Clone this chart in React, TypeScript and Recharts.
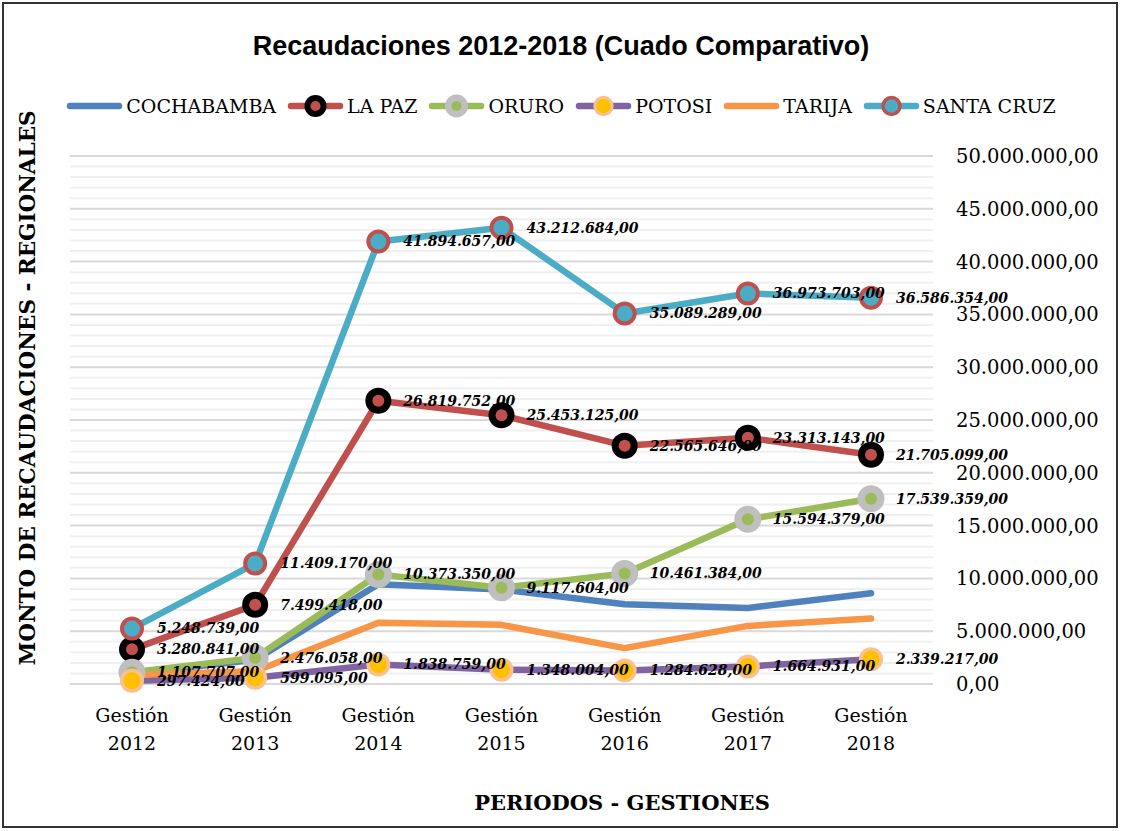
import React from "react"
import { CartesianGrid, LabelList, Line, LineChart, ReferenceLine, XAxis, YAxis } from "recharts"

const years = ["2012", "2013", "2014", "2015", "2016", "2017", "2018"]
const cochabamba = [1000000, 2300000, 9450000, 8950000, 7550000, 7200000, 8600000]
const laPaz = [3280841, 7499418, 26819752, 25453125, 22565646, 23313143, 21705099]
const oruro = [1107707, 2476058, 10373350, 9117604, 10461384, 15594379, 17539359]
const potosi = [297424, 599095, 1838759, 1348004, 1284628, 1664931, 2339217]
const tarija = [850000, 1200000, 5800000, 5600000, 3400000, 5500000, 6200000]
const santaCruz = [5248739, 11409170, 41894657, 43212684, 35089289, 36973703, 36586354]

const yTicks = [0, 5000000, 10000000, 15000000, 20000000, 25000000, 30000000, 35000000, 40000000, 45000000, 50000000]
const minorLines: number[] = []
for (let v = 1000000; v < 50000000; v += 1000000) if (v % 5000000 !== 0) minorLines.push(v)

const data = years.map((y, i) => ({
  name: "Gestión " + y,
  year: y,
  cochabamba: cochabamba[i],
  laPaz: laPaz[i],
  oruro: oruro[i],
  potosi: potosi[i],
  tarija: tarija[i],
  santaCruz: santaCruz[i],
}))

const C = {
  cochabamba: "#4F81BD",
  laPaz: "#C0504D",
  oruro: "#9BBB59",
  potosi: "#8064A2",
  tarija: "#F79646",
  santaCruz: "#4BACC6",
}

const SERIF = "'DejaVu Serif', serif"

function fmt(v: number) {
  const s = Math.round(v).toString().replace(/\B(?=(\d{3})+(?!\d))/g, ".")
  return s + ",00"
}

function marker(kind: string, cx: number, cy: number, s = 1) {
  if (kind === "laPaz")
    return (
      <g>
        <circle cx={cx} cy={cy} r={13 * s} fill="#000" />
        <circle cx={cx} cy={cy} r={6 * s} fill={C.laPaz} />
      </g>
    )
  if (kind === "oruro")
    return (
      <g>
        <circle cx={cx} cy={cy} r={13.5 * s} fill="#BFBFBF" />
        <circle cx={cx} cy={cy} r={6 * s} fill={C.oruro} />
      </g>
    )
  if (kind === "potosi")
    return (
      <g>
        <circle cx={cx} cy={cy} r={12 * s} fill="#FAC090" />
        <circle cx={cx} cy={cy} r={8.5 * s} fill="#FFC000" />
      </g>
    )
  if (kind === "santaCruz")
    return <circle cx={cx} cy={cy} r={10 * s} fill={C.santaCruz} stroke={C.laPaz} strokeWidth={4 * s} />
  return null
}

const dotFor = (kind: string) => (props: any) => (
  <g key={kind + props.index}>{marker(kind, props.cx, props.cy)}</g>
)

const renderLabel = (props: any) => {
  const { x, y, value } = props
  return (
    <text
      x={x + 25}
      y={y}
      dy="0.35em"
      fontFamily={SERIF}
      fontSize={14}
      fontWeight="bold"
      fontStyle="italic"
      fill="#000"
    >
      {fmt(value)}
    </text>
  )
}

const XTick = (props: any) => {
  const { x, y, payload } = props
  const [a, b] = String(payload.value).split(" ")
  return (
    <text x={x} y={y} textAnchor="middle" fontFamily={SERIF} fontSize={19} fill="#000">
      <tspan x={x} dy={30}>{a}</tspan>
      <tspan x={x} dy={28}>{b}</tspan>
    </text>
  )
}

const legendItems = [
  { key: "cochabamba", label: "COCHABAMBA" },
  { key: "laPaz", label: "LA PAZ" },
  { key: "oruro", label: "ORURO" },
  { key: "potosi", label: "POTOSI" },
  { key: "tarija", label: "TARIJA" },
  { key: "santaCruz", label: "SANTA CRUZ" },
]

export default function App() {
  const series = ["cochabamba", "laPaz", "oruro", "potosi", "tarija", "santaCruz"] as const
  const withMarkers = ["laPaz", "oruro", "potosi", "santaCruz"]
  const labelled = ["laPaz", "oruro", "potosi", "santaCruz"]

  return (
    <div style={{ position: "absolute", left: 0, top: 0, width: 1122, height: 831, background: "#fff" }}>
      <div
        style={{
          position: "absolute",
          left: 2,
          top: 2,
          width: 1112,
          height: 822,
          border: "2px solid #333",
        }}
      />
      <div
        style={{
          position: "absolute",
          top: 29,
          left: 0,
          width: 1122,
          textAlign: "center",
          fontFamily: "'Liberation Sans', sans-serif",
          fontWeight: "bold",
          fontSize: 27,
          lineHeight: "34px",
          color: "#000",
          paddingLeft: 0,
        }}
      >
        Recaudaciones 2012-2018 (Cuado Comparativo)
      </div>
      <div
        style={{
          position: "absolute",
          top: 92,
          left: 0,
          width: 1122,
          display: "flex",
          justifyContent: "center",
          alignItems: "center",
          fontFamily: SERIF,
          fontSize: 19,
          color: "#000",
        }}
      >
        {legendItems.map((it, i) => (
          <div
            key={it.key}
            style={{ display: "flex", alignItems: "center", marginRight: i === legendItems.length - 1 ? 0 : 11 }}
          >
            <svg width={57} height={28}>
              <line x1={4} y1={14} x2={53} y2={14} stroke={(C as any)[it.key]} strokeWidth={6.5} strokeLinecap="round" />
              {marker(it.key, 28.5, 14, 0.85)}
            </svg>
            <span style={{ marginLeft: 3 }}>{it.label}</span>
          </div>
        ))}
      </div>
      <div
        style={{
          position: "absolute",
          left: 27,
          top: 388,
          transform: "translate(-50%, -50%) rotate(-90deg)",
          whiteSpace: "nowrap",
          fontFamily: SERIF,
          fontWeight: "bold",
          fontSize: 21.5,
          color: "#000",
        }}
      >
        MONTO DE RECAUDACIONES - REGIONALES
      </div>
      <div
        style={{
          position: "absolute",
          left: 622,
          top: 802,
          transform: "translate(-50%, -50%)",
          whiteSpace: "nowrap",
          fontFamily: SERIF,
          fontWeight: "bold",
          fontSize: 21,
          color: "#000",
        }}
      >
        PERIODOS - GESTIONES
      </div>
      <div style={{ position: "absolute", left: 0, top: 0 }}>
        <LineChart width={1122} height={831} data={data} margin={{ top: 156, right: 0, bottom: 0, left: 70 }}>
          {minorLines.map((v) => (
            <ReferenceLine key={v} y={v} stroke="#F0F0F0" strokeWidth={2} ifOverflow="visible" />
          ))}
          <CartesianGrid vertical={false} stroke="#D9D9D9" strokeWidth={2} />
          <XAxis
            dataKey="name"
            height={147}
            axisLine={false}
            tickLine={false}
            padding={{ left: 62, right: 62 }}
            tick={<XTick />}
            interval={0}
          />
          <YAxis
            orientation="right"
            width={189}
            domain={[0, 50000000]}
            ticks={yTicks}
            axisLine={false}
            tickLine={false}
            tickSize={0}
            tickMargin={23}
            tickFormatter={fmt}
            tick={{ fontFamily: SERIF, fontSize: 19.5, fill: "#000", textAnchor: "start" }}
          />
          {series.map((k) => (
            <Line
              key={k}
              dataKey={k}
              stroke={(C as any)[k]}
              strokeWidth={6.5}
              strokeLinejoin="round"
              strokeLinecap="round"
              dot={withMarkers.includes(k) ? dotFor(k) : false}
              activeDot={false}
              isAnimationActive={false}
              legendType="none"
            />
          ))}
          {labelled.map((k) => (
            <Line
              key={"lbl-" + k}
              dataKey={k}
              stroke="none"
              dot={false}
              activeDot={false}
              isAnimationActive={false}
              legendType="none"
            >
              <LabelList dataKey={k} content={renderLabel} />
            </Line>
          ))}
        </LineChart>
      </div>
    </div>
  )
}
